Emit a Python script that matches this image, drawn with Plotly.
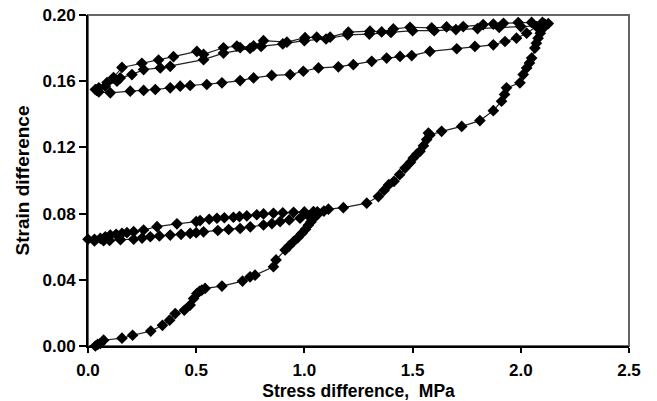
import plotly.graph_objects as go

# Segment 1: initial loading
load1_x = [0.034, 0.045, 0.057, 0.072, 0.157, 0.206, 0.29, 0.344, 0.377, 0.403, 0.445, 0.472, 0.488, 0.503, 0.515,
           0.526, 0.541, 0.619, 0.714, 0.749, 0.772, 0.857, 0.869, 0.911, 0.93, 0.949, 0.97, 0.988, 1.005, 1.018,
           1.03, 1.042]
load1_y = [0.0, 0.001, 0.0015, 0.0035, 0.0047, 0.0065, 0.009, 0.0125, 0.0156, 0.0196, 0.0216, 0.0247, 0.0287, 0.0317,
           0.033, 0.0338, 0.0348, 0.0362, 0.0392, 0.0418, 0.0428, 0.0479, 0.052, 0.058, 0.0605, 0.063, 0.0655, 0.068,
           0.0705, 0.073, 0.075, 0.077]

# Segment 2: first unloading (lower loop, upper branch)
unload1_x = [1.06, 1.042, 1.0, 0.95, 0.9, 0.857, 0.811, 0.78, 0.734, 0.7, 0.672, 0.63, 0.596, 0.56, 0.518, 0.5,
             0.411, 0.319, 0.257, 0.211, 0.18, 0.157, 0.13, 0.103, 0.08, 0.057, 0.03, 0.0]
unload1_y = [0.081, 0.0812, 0.081, 0.0808, 0.0805, 0.0802, 0.0798, 0.0793, 0.0786, 0.0782, 0.0778, 0.0775, 0.0772,
             0.0766, 0.0758, 0.0752, 0.0738, 0.0721, 0.0701, 0.0691, 0.0685, 0.0681, 0.0675, 0.067, 0.066, 0.065,
             0.0645, 0.0645]

# Segment 3: reloading (lower loop, lower branch)
reload1_x = [0.03, 0.072, 0.1, 0.15, 0.211, 0.25, 0.288, 0.33, 0.38, 0.43, 0.472, 0.5, 0.534, 0.6, 0.65, 0.703,
             0.75, 0.811, 0.85, 0.888, 0.93, 0.98, 1.02, 1.057, 1.065]
reload1_y = [0.0635, 0.0636, 0.0638, 0.0642, 0.0645, 0.0652, 0.066, 0.0665, 0.067, 0.0675, 0.068, 0.0685, 0.069,
             0.0698, 0.0704, 0.071, 0.072, 0.0731, 0.074, 0.0752, 0.0762, 0.0772, 0.0785, 0.0798, 0.08]

# Segment 4: continued loading
load2_x = [1.09, 1.111, 1.18, 1.288, 1.342, 1.368, 1.39, 1.414, 1.44, 1.465, 1.49, 1.503, 1.52, 1.534, 1.55, 1.565,
           1.573, 1.58, 1.634, 1.727, 1.811, 1.873, 1.911, 1.925, 1.934, 1.996, 2.011, 2.027, 2.04, 2.05, 2.065,
           2.072, 2.08, 2.09, 2.103, 2.127]
load2_y = [0.0815, 0.0827, 0.0836, 0.0863, 0.0903, 0.094, 0.0975, 0.0995, 0.1035, 0.1075, 0.111, 0.1136, 0.116,
           0.1176, 0.121, 0.1247, 0.1287, 0.1275, 0.1297, 0.1327, 0.1362, 0.1422, 0.1479, 0.152, 0.156, 0.159, 0.164,
           0.168, 0.171, 0.174, 0.18, 0.183, 0.186, 0.189, 0.192, 0.1948]

# Segment 5: second unloading (upper loop, top branch A)
unload2_x = [2.1, 2.05, 1.988, 1.92, 1.873, 1.826, 1.734, 1.657, 1.588, 1.488, 1.411, 1.357, 1.303, 1.203, 1.119,
             1.057, 1.003, 0.919, 0.811, 0.765, 0.703, 0.688, 0.626, 0.534, 0.503, 0.395, 0.326, 0.249, 0.157, 0.118,
             0.088, 0.05, 0.034]
unload2_y = [0.1955, 0.1955, 0.1954, 0.195, 0.1945, 0.1942, 0.193, 0.1928, 0.1922, 0.1926, 0.1916, 0.1898, 0.1902,
             0.1896, 0.1866, 0.1866, 0.1863, 0.1836, 0.1845, 0.1813, 0.1803, 0.1812, 0.1802, 0.1762, 0.178, 0.1748,
             0.1728, 0.1708, 0.1683, 0.1622, 0.1592, 0.156, 0.155]

# Segment 6: reloading (upper loop, bottom branch)
reload2_x = [0.05, 0.103, 0.195, 0.257, 0.311, 0.38, 0.426, 0.472, 0.549, 0.619, 0.703, 0.765, 0.849, 0.934, 0.995,
             1.065, 1.157, 1.226, 1.311, 1.38, 1.442, 1.496, 1.58, 1.704, 1.788, 1.873, 1.927, 1.98, 2.027, 2.073,
             2.11]
reload2_y = [0.1535, 0.153, 0.154, 0.1544, 0.155, 0.156, 0.157, 0.1574, 0.158, 0.159, 0.1604, 0.162, 0.1635, 0.164,
             0.166, 0.168, 0.1687, 0.17, 0.172, 0.174, 0.175, 0.1755, 0.178, 0.1796, 0.181, 0.182, 0.184, 0.186,
             0.189, 0.193, 0.1945]

# Segment 7: third unloading (upper loop, top branch B)
unload3_x = [2.09, 2.0, 1.9, 1.8, 1.7, 1.6, 1.5, 1.4, 1.3, 1.2, 1.1, 1.0, 0.9, 0.8, 0.749, 0.626, 0.534, 0.38, 0.334,
             0.257, 0.203, 0.149, 0.134, 0.08, 0.04]
unload3_y = [0.1935, 0.193, 0.1925, 0.1918, 0.1912, 0.1905, 0.1905, 0.1895, 0.1885, 0.188, 0.1855, 0.1845, 0.1825,
             0.181, 0.1798, 0.177, 0.173, 0.169, 0.168, 0.167, 0.164, 0.162, 0.16, 0.157, 0.1545]

stress = load1_x + unload1_x + reload1_x + load2_x + unload2_x + reload2_x + unload3_x
strain = load1_y + unload1_y + reload1_y + load2_y + unload2_y + reload2_y + unload3_y

x_ticks = [0.0, 0.5, 1.0, 1.5, 2.0, 2.5]
x_tick_labels = ["0.0", "0.5", "1.0", "1.5", "2.0", "2.5"]
y_ticks = [0.0, 0.04, 0.08, 0.12, 0.16, 0.20]
y_tick_labels = ["0.00", "0.04", "0.08", "0.12", "0.16", "0.20"]

font_family = "Liberation Sans, Arial, sans-serif"

fig = go.Figure()
fig.add_trace(go.Scatter(
    x=stress, y=strain, mode="lines+markers",
    line=dict(color="#222222", width=1.2),
    marker=dict(symbol="diamond", size=9, color="black"),
    cliponaxis=False, showlegend=False,
))

fig.add_shape(type="rect", xref="paper", yref="paper", x0=0, y0=0, x1=1, y1=1,
              line=dict(color="#666666", width=2), layer="below")

fig.update_layout(
    width=657, height=401,
    margin=dict(l=88, r=28, t=15, b=55),
    paper_bgcolor="white", plot_bgcolor="white",
    font=dict(family=font_family, color="black", size=16),
)
fig.update_xaxes(
    range=[0, 2.5], tickvals=x_ticks, ticktext=x_tick_labels,
    showgrid=False, zeroline=False, automargin=False,
    showline=True, linecolor="black", linewidth=2,
    ticks="outside", ticklen=5, tickwidth=2, tickcolor="black",
    ticklabelstandoff=3,
    tickfont=dict(family=font_family, size=17, weight="bold"),
    title=dict(text="Stress difference,  MPa", font=dict(family=font_family, size=17.5, weight="bold"), standoff=6),
)
fig.update_yaxes(
    range=[0, 0.2], tickvals=y_ticks, ticktext=y_tick_labels,
    showgrid=False, zeroline=False, automargin=False,
    showline=True, linecolor="black", linewidth=2,
    ticks="outside", ticklen=7, tickwidth=2, tickcolor="black",
    tickfont=dict(family=font_family, size=17, weight="bold"),
    title=dict(text="Strain difference", font=dict(family=font_family, size=19, weight="bold"), standoff=8),
)

fig.write_html("out.html")
